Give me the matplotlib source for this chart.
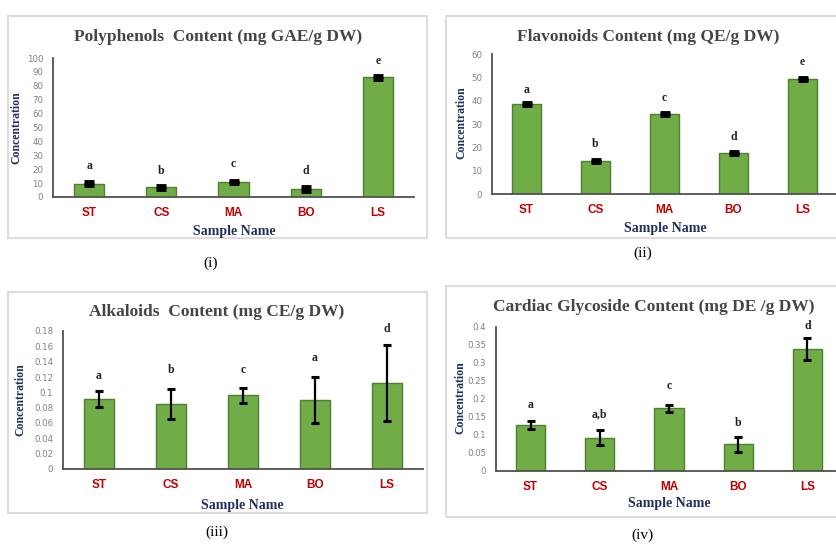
import numpy as np
import matplotlib
matplotlib.use('Agg')
import matplotlib.pyplot as plt
from matplotlib.patches import Rectangle

# 样品名称
samples = ['ST', 'CS', 'MA', 'BO', 'LS']

# (i) Polyphenols
poly_vals = [9.5, 7.0, 10.7, 5.7, 86.0]
poly_err = [1.0, 1.0, 0.8, 1.2, 0.8]
poly_letters = ['a', 'b', 'c', 'd', 'e']
poly_letter_y = [22, 19, 24, 19, 98]

# (ii) Flavonoids
flav_vals = [38.5, 14.2, 34.4, 17.7, 49.2]
flav_err = [0.5, 0.5, 0.5, 0.5, 0.5]
flav_letters = ['a', 'b', 'c', 'd', 'e']
flav_letter_y = [44.5, 21.5, 41.3, 24.6, 56.5]

# (iii) Alkaloids
alk_vals = [0.091, 0.085, 0.096, 0.090, 0.112]
alk_err = [0.0105, 0.020, 0.010, 0.030, 0.050]
alk_letters = ['a', 'b', 'c', 'a', 'd']
alk_letter_y = [0.121, 0.129, 0.129, 0.145, 0.183]

# (iv) Cardiac glycoside
card_vals = [0.128, 0.092, 0.174, 0.074, 0.339]
card_err = [0.011, 0.021, 0.010, 0.020, 0.030]
card_letters = ['a', 'a,b', 'c', 'b', 'd']
card_letter_y = [0.183, 0.158, 0.236, 0.132, 0.402]

W, H = 836, 544
fig = plt.figure(figsize=(W / 100, H / 100), dpi=100)

SERIF = 'Liberation Serif'
GREEN = '#70ad47'
EDGE = '#4f7f2f'
NAVY = '#1f2f5f'


def px_box(x0, y0, x1, y1):
    """像素坐标 -> figure坐标 [left, bottom, width, height]"""
    return [x0 / W, 1 - y1 / H, (x1 - x0) / W, (y1 - y0) / H]


def draw_panel(box, frame, vals, err, letters, letter_y, ylim, yticks, ytick_labels,
               title, title_xy, ylab_xy, xlab_xy, cap, cap_xy, thick):
    # 外框
    fx0, fy0, fx1, fy1 = frame
    fig.patches.append(Rectangle((fx0 / W, 1 - fy1 / H), (fx1 - fx0) / W, (fy1 - fy0) / H,
                                 transform=fig.transFigure, fill=False,
                                 edgecolor='#dcdcdc', linewidth=1.5))
    ax = fig.add_axes(px_box(*box))
    x = np.arange(len(samples))
    ax.bar(x, vals, width=0.42, color=GREEN, edgecolor=EDGE, linewidth=1.0, zorder=2)
    if thick:
        ax.errorbar(x, vals, yerr=err, fmt='none', ecolor='black',
                    elinewidth=3, capsize=3.5, capthick=3.5, zorder=3)
    else:
        ax.errorbar(x, vals, yerr=err, fmt='none', ecolor='black',
                    elinewidth=1.6, capsize=3, capthick=2.2, zorder=3)
    for xi, lt, ly in zip(x, letters, letter_y):
        ax.text(xi, ly, lt, ha='center', va='center', fontsize=8.5,
                fontweight='bold', family=SERIF, color='#222222')
    ax.set_xlim(-0.5, 4.5)
    ax.set_ylim(*ylim)
    ax.set_yticks(yticks)
    ax.set_yticklabels(ytick_labels, fontsize=6.2, color='#808080')
    ax.set_xticks(x)
    ax.set_xticklabels(samples, fontsize=8.5, fontweight='bold', color='#c00000',
                       family='Liberation Sans')
    ax.tick_params(axis='both', length=0)
    ax.tick_params(axis='x', pad=7)
    ax.tick_params(axis='y', pad=7)
    for s in ['top', 'right']:
        ax.spines[s].set_visible(False)
    for s in ['left', 'bottom']:
        ax.spines[s].set_color('#505050')
        ax.spines[s].set_linewidth(1.3)
    ax.patch.set_alpha(0)

    fig.text(title_xy[0] / W, 1 - title_xy[1] / H, title, ha='center', va='center',
             fontsize=12.5, fontweight='bold', family=SERIF, color='#454545')
    fig.text(ylab_xy[0] / W, 1 - ylab_xy[1] / H, 'Concentration', ha='center', va='center',
             rotation=90, fontsize=8.5, fontweight='bold', family=SERIF, color=NAVY)
    fig.text(xlab_xy[0] / W, 1 - xlab_xy[1] / H, 'Sample Name', ha='center', va='center',
             fontsize=10, fontweight='bold', family=SERIF, color=NAVY)
    fig.text(cap_xy[0] / W, 1 - cap_xy[1] / H, cap, ha='center', va='center',
             fontsize=11, family=SERIF, color='black')
    return ax


draw_panel((53, 58, 414, 197), (8, 16, 427, 238), poly_vals, poly_err,
           poly_letters, poly_letter_y, (0, 100), np.arange(0, 101, 10),
           [str(v) for v in range(0, 101, 10)],
           'Polyphenols  Content (mg GAE/g DW)', (218, 37), (16, 128), (234, 232),
           '(i)', (211, 263), True)

draw_panel((492, 54, 837, 194), (446, 16, 845, 238), flav_vals, flav_err,
           flav_letters, flav_letter_y, (0, 60), np.arange(0, 61, 10),
           [str(v) for v in range(0, 61, 10)],
           'Flavonoids Content (mg QE/g DW)', (648, 37), (461, 123), (665, 228),
           '(ii)', (643, 253), True)

alk_ticks = np.round(np.arange(0, 0.181, 0.02), 2)
draw_panel((63, 331, 423, 469), (8, 292, 427, 513), alk_vals, alk_err,
           alk_letters, alk_letter_y, (0, 0.18), alk_ticks,
           ['0', '0.02', '0.04', '0.06', '0.08', '0.1', '0.12', '0.14', '0.16', '0.18'],
           'Alkaloids  Content (mg CE/g DW)', (217, 312), (20, 400), (242, 505),
           '(iii)', (217, 532), False)

card_ticks = np.round(np.arange(0, 0.401, 0.05), 2)
draw_panel((496, 327, 842, 471), (446, 286, 845, 517), card_vals, card_err,
           card_letters, card_letter_y, (0, 0.4), card_ticks,
           ['0', '0.05', '0.1', '0.15', '0.2', '0.25', '0.3', '0.35', '0.4'],
           'Cardiac Glycoside Content (mg DE /g DW)', (654, 307), (460, 398), (669, 504),
           '(iv)', (642, 535), False)

plt.savefig('out.png', dpi=100)
